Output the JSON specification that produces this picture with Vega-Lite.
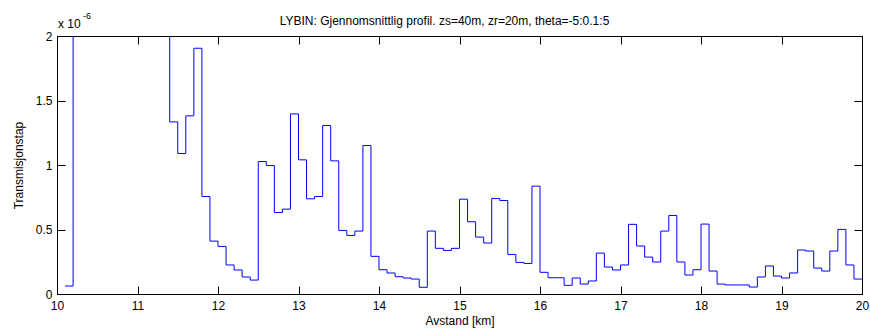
{
  "$schema": "https://vega.github.io/schema/vega-lite/v6.json",
  "width": 805,
  "height": 258,
  "autosize": {"type": "none"},
  "padding": {"left": 57, "top": 36, "right": 8, "bottom": 39},
  "title": {
    "text": "LYBIN: Gjennomsnittlig profil. zs=40m, zr=20m, theta=-5:0.1:5",
    "font": "Liberation Sans",
    "fontSize": 12,
    "fontWeight": "normal",
    "color": "#000000",
    "anchor": "middle",
    "frame": "group",
    "offset": -16,
    "dx": -15
  },
  "config": {
    "view": {"stroke": null},
    "font": "Liberation Sans",
    "axis": {
      "grid": false,
      "domainColor": "#000000",
      "domainWidth": 1,
      "tickColor": "#000000",
      "tickWidth": 1,
      "tickSize": -8,
      "labelColor": "#000000",
      "labelFont": "Liberation Sans",
      "labelFontSize": 12,
      "titleColor": "#000000",
      "titleFont": "Liberation Sans",
      "titleFontSize": 12,
      "titleFontWeight": "normal"
    }
  },
  "data": {
    "values": [
      {"avstand": 10.1, "transmisjonstap": 0.062e-6},
      {"avstand": 10.2, "transmisjonstap": 3.0e-6},
      {"avstand": 11.4, "transmisjonstap": 1.334e-6},
      {"avstand": 11.5, "transmisjonstap": 1.089e-6},
      {"avstand": 11.6, "transmisjonstap": 1.381e-6},
      {"avstand": 11.7, "transmisjonstap": 1.905e-6},
      {"avstand": 11.8, "transmisjonstap": 0.756e-6},
      {"avstand": 11.9, "transmisjonstap": 0.410e-6},
      {"avstand": 12.0, "transmisjonstap": 0.369e-6},
      {"avstand": 12.1, "transmisjonstap": 0.225e-6},
      {"avstand": 12.2, "transmisjonstap": 0.186e-6},
      {"avstand": 12.3, "transmisjonstap": 0.132e-6},
      {"avstand": 12.4, "transmisjonstap": 0.108e-6},
      {"avstand": 12.5, "transmisjonstap": 1.027e-6},
      {"avstand": 12.6, "transmisjonstap": 0.996e-6},
      {"avstand": 12.7, "transmisjonstap": 0.632e-6},
      {"avstand": 12.8, "transmisjonstap": 0.658e-6},
      {"avstand": 12.9, "transmisjonstap": 1.396e-6},
      {"avstand": 13.0, "transmisjonstap": 1.040e-6},
      {"avstand": 13.1, "transmisjonstap": 0.738e-6},
      {"avstand": 13.2, "transmisjonstap": 0.756e-6},
      {"avstand": 13.3, "transmisjonstap": 1.306e-6},
      {"avstand": 13.4, "transmisjonstap": 1.032e-6},
      {"avstand": 13.5, "transmisjonstap": 0.493e-6},
      {"avstand": 13.6, "transmisjonstap": 0.454e-6},
      {"avstand": 13.7, "transmisjonstap": 0.488e-6},
      {"avstand": 13.8, "transmisjonstap": 1.151e-6},
      {"avstand": 13.9, "transmisjonstap": 0.292e-6},
      {"avstand": 14.0, "transmisjonstap": 0.188e-6},
      {"avstand": 14.1, "transmisjonstap": 0.163e-6},
      {"avstand": 14.2, "transmisjonstap": 0.134e-6},
      {"avstand": 14.3, "transmisjonstap": 0.124e-6},
      {"avstand": 14.4, "transmisjonstap": 0.116e-6},
      {"avstand": 14.5, "transmisjonstap": 0.052e-6},
      {"avstand": 14.6, "transmisjonstap": 0.488e-6},
      {"avstand": 14.7, "transmisjonstap": 0.354e-6},
      {"avstand": 14.8, "transmisjonstap": 0.338e-6},
      {"avstand": 14.9, "transmisjonstap": 0.354e-6},
      {"avstand": 15.0, "transmisjonstap": 0.735e-6},
      {"avstand": 15.1, "transmisjonstap": 0.560e-6},
      {"avstand": 15.2, "transmisjonstap": 0.441e-6},
      {"avstand": 15.3, "transmisjonstap": 0.395e-6},
      {"avstand": 15.4, "transmisjonstap": 0.741e-6},
      {"avstand": 15.5, "transmisjonstap": 0.725e-6},
      {"avstand": 15.6, "transmisjonstap": 0.307e-6},
      {"avstand": 15.7, "transmisjonstap": 0.245e-6},
      {"avstand": 15.8, "transmisjonstap": 0.237e-6},
      {"avstand": 15.9, "transmisjonstap": 0.836e-6},
      {"avstand": 16.0, "transmisjonstap": 0.168e-6},
      {"avstand": 16.1, "transmisjonstap": 0.126e-6},
      {"avstand": 16.2, "transmisjonstap": 0.126e-6},
      {"avstand": 16.3, "transmisjonstap": 0.067e-6},
      {"avstand": 16.4, "transmisjonstap": 0.124e-6},
      {"avstand": 16.5, "transmisjonstap": 0.077e-6},
      {"avstand": 16.6, "transmisjonstap": 0.101e-6},
      {"avstand": 16.7, "transmisjonstap": 0.317e-6},
      {"avstand": 16.8, "transmisjonstap": 0.209e-6},
      {"avstand": 16.9, "transmisjonstap": 0.186e-6},
      {"avstand": 17.0, "transmisjonstap": 0.225e-6},
      {"avstand": 17.1, "transmisjonstap": 0.540e-6},
      {"avstand": 17.2, "transmisjonstap": 0.372e-6},
      {"avstand": 17.3, "transmisjonstap": 0.286e-6},
      {"avstand": 17.4, "transmisjonstap": 0.248e-6},
      {"avstand": 17.5, "transmisjonstap": 0.488e-6},
      {"avstand": 17.6, "transmisjonstap": 0.609e-6},
      {"avstand": 17.7, "transmisjonstap": 0.248e-6},
      {"avstand": 17.8, "transmisjonstap": 0.147e-6},
      {"avstand": 17.9, "transmisjonstap": 0.188e-6},
      {"avstand": 18.0, "transmisjonstap": 0.542e-6},
      {"avstand": 18.1, "transmisjonstap": 0.178e-6},
      {"avstand": 18.2, "transmisjonstap": 0.077e-6},
      {"avstand": 18.3, "transmisjonstap": 0.070e-6},
      {"avstand": 18.4, "transmisjonstap": 0.070e-6},
      {"avstand": 18.5, "transmisjonstap": 0.070e-6},
      {"avstand": 18.6, "transmisjonstap": 0.054e-6},
      {"avstand": 18.7, "transmisjonstap": 0.132e-6},
      {"avstand": 18.8, "transmisjonstap": 0.217e-6},
      {"avstand": 18.9, "transmisjonstap": 0.139e-6},
      {"avstand": 19.0, "transmisjonstap": 0.124e-6},
      {"avstand": 19.1, "transmisjonstap": 0.163e-6},
      {"avstand": 19.2, "transmisjonstap": 0.341e-6},
      {"avstand": 19.3, "transmisjonstap": 0.333e-6},
      {"avstand": 19.4, "transmisjonstap": 0.201e-6},
      {"avstand": 19.5, "transmisjonstap": 0.178e-6},
      {"avstand": 19.6, "transmisjonstap": 0.333e-6},
      {"avstand": 19.7, "transmisjonstap": 0.501e-6},
      {"avstand": 19.8, "transmisjonstap": 0.225e-6},
      {"avstand": 19.9, "transmisjonstap": 0.116e-6},
      {"avstand": 20.0, "transmisjonstap": 0.116e-6}
    ]
  },
  "layer": [
    {
      "mark": {"type": "line", "interpolate": "step-after", "color": "#0000ff", "strokeWidth": 1, "clip": true},
      "encoding": {
        "x": {
          "field": "avstand", "type": "quantitative",
          "scale": {"domain": [10, 20], "nice": false, "zero": false},
          "axis": {"orient": "bottom", "title": "Avstand [km]", "values": [10, 11, 12, 13, 14, 15, 16, 17, 18, 19, 20], "labelPadding": 14, "titlePadding": 4, "labelFlush": false}
        },
        "y": {
          "field": "transmisjonstap", "type": "quantitative",
          "scale": {"domain": [0, 2e-6], "nice": false},
          "axis": {"orient": "left", "title": "Transmisjonstap", "values": [0, 5e-7, 1e-6, 1.5e-6, 2e-6], "labelExpr": "format(datum.value * 1e6, '.3~g')", "labelPadding": 13, "titlePadding": 10}
        }
      }
    },
    {
      "mark": {"type": "line", "strokeOpacity": 0, "clip": true},
      "encoding": {
        "x": {
          "field": "avstand", "type": "quantitative",
          "axis": {"orient": "top", "title": null, "labels": false, "values": [10, 11, 12, 13, 14, 15, 16, 17, 18, 19, 20]}
        },
        "y": {
          "field": "transmisjonstap", "type": "quantitative",
          "axis": {"orient": "right", "title": null, "labels": false, "values": [0, 5e-7, 1e-6, 1.5e-6, 2e-6]}
        }
      }
    },
    {
      "data": {"values": [{"tekst": "x 10"}]},
      "mark": {"type": "text", "align": "left", "baseline": "alphabetic", "fontSize": 12, "font": "Liberation Sans", "color": "#000000", "dx": 1, "dy": -8},
      "encoding": {
        "x": {"datum": 10, "axis": null},
        "y": {"datum": 2e-6, "axis": null},
        "text": {"field": "tekst"}
      }
    },
    {
      "data": {"values": [{"tekst": "-6"}]},
      "mark": {"type": "text", "align": "left", "baseline": "alphabetic", "fontSize": 9, "font": "Liberation Sans", "color": "#000000", "dx": 26, "dy": -17},
      "encoding": {
        "x": {"datum": 10, "axis": null},
        "y": {"datum": 2e-6, "axis": null},
        "text": {"field": "tekst"}
      }
    }
  ],
  "resolve": {"axis": {"x": "independent", "y": "independent"}}
}
